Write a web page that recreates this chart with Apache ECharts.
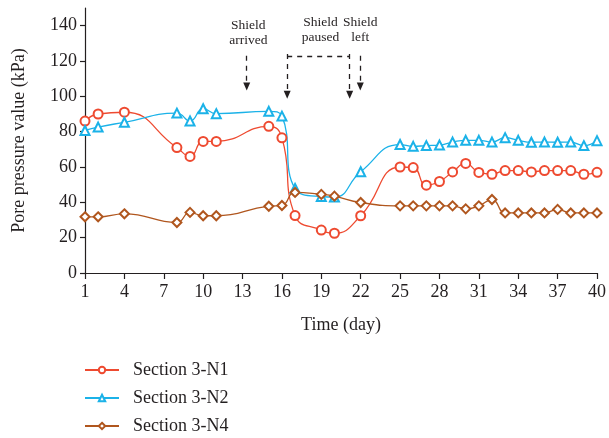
<!DOCTYPE html>
<html>
<head>
<meta charset="utf-8">
<script src="https://cdn.jsdelivr.net/npm/echarts@6/dist/echarts.min.js"></script>
<style>
  html, body { margin: 0; padding: 0; background: #fff; }
  #chart { width: 609px; height: 438px; }
</style>
</head>
<body>
<div id="chart"></div>
<script>
  // days on which the three sections were read
  let days = [1, 2, 4, 8, 9, 10, 11, 15, 16, 17, 19, 20, 22, 25, 26, 27, 28, 29, 30, 31, 32, 33, 34, 35, 36, 37, 38, 39, 40]
  let n1Data = [86, 90, 91, 71, 66, 74.5, 74.5, 83, 76.5, 32.5, 24.3, 22.5, 32.4, 60, 59.7, 49.7, 51.8, 57.2, 62, 56.9, 55.9, 58, 58, 57.2, 58, 58, 58, 55.9, 57]
  let n2Data = [80.7, 82.6, 85.3, 90.5, 86, 93, 90.2, 91.5, 88.8, 47.8, 43.3, 43, 57.3, 72.7, 71.7, 72.1, 72.4, 74.1, 75.1, 75.1, 74.1, 76.6, 75.1, 74, 74.1, 74, 74.1, 72.1, 74.9]
  let n4Data = [31.8, 31.8, 33.5, 28.6, 34.3, 32.4, 32.4, 37.8, 38.2, 45.6, 44.5, 43.5, 39.9, 38, 38, 38, 38, 38, 36.3, 38, 41.6, 34, 34, 34, 34, 36, 34, 34, 34]
  let xTicks = [1, 4, 7, 10, 13, 16, 19, 22, 25, 28, 31, 34, 37, 40]
  let yTicks = [0, 20, 40, 60, 80, 100, 120, 140]
  let seriesNames = ['Section 3-N1', 'Section 3-N2', 'Section 3-N4']

  // shield events (day, in kPa units of the plot)
  let arrivedDay = 13.32
  let pausedFrom = 16.4
  let pausedTo = 21.16
  let leftDay = 21.97
  let notes = [
    { text: 'Shield\narrived', x: 13.44, y: 136.1 },
    { text: 'Shield\npaused', x: 18.93, y: 137.5 },
    { text: 'Shield\nleft', x: 21.97, y: 137.5 }
  ]

  const FONT = '"Liberation Serif", "DejaVu Serif", serif'
  const INK = '#231f20'

  function pairs(ys) {
    return days.map((d, i) => [d, ys[i]])
  }

  function lineSeries(name, ys, color, symbol) {
    return {
      name: name,
      type: 'line',
      smooth: 0.5,
      symbol: symbol,
      symbolSize: 9,
      lineStyle: { width: 1.3, color: color },
      itemStyle: { color: color, borderColor: color, borderWidth: 1.3 },
      data: pairs(ys)
    }
  }

  let chart = echarts.init(document.getElementById('chart'), null, { renderer: 'canvas' })

  let arrowStyle = { color: INK, width: 1.3, type: [5, 5] }
  chart.setOption({
    animation: false,
    textStyle: { fontFamily: FONT, color: INK },
    grid: { left: 85, right: 10, top: 8, bottom: 165 },
    legend: {
      data: seriesNames,
      orient: 'vertical',
      left: 84,
      top: 361,
      padding: 0,
      itemWidth: 34,
      itemHeight: 8,
      itemGap: 10,
      textStyle: { fontFamily: FONT, fontSize: 18, color: INK, lineHeight: 18, padding: [0, 0, 0, 9] }
    },
    xAxis: {
      type: 'value',
      min: 1,
      max: 40,
      name: 'Time (day)',
      nameLocation: 'middle',
      nameGap: 43,
      nameTextStyle: { fontFamily: FONT, fontSize: 18, color: INK },
      axisLine: { lineStyle: { color: INK, width: 1.2 } },
      axisTick: { show: true, length: 6, lineStyle: { color: INK, width: 1.2 }, customValues: xTicks },
      axisLabel: { fontFamily: FONT, fontSize: 18, color: INK, margin: 10, customValues: xTicks },
      splitLine: { show: false }
    },
    yAxis: {
      type: 'value',
      min: 0,
      max: 150,
      name: 'Pore pressure value (kPa)',
      nameLocation: 'middle',
      nameGap: 57,
      nameTextStyle: { fontFamily: FONT, fontSize: 18, color: INK },
      axisLine: { show: true, lineStyle: { color: INK, width: 1.2 } },
      axisTick: { show: true, length: 5, lineStyle: { color: INK, width: 1.2 }, customValues: yTicks },
      axisLabel: { fontFamily: FONT, fontSize: 18, color: INK, margin: 8, customValues: yTicks },
      splitLine: { show: false }
    },
    series: [
      lineSeries(seriesNames[0], n1Data, '#ee4a30', 'emptyCircle'),
      lineSeries(seriesNames[1], n2Data, '#1bb2e8', 'emptyTriangle'),
      lineSeries(seriesNames[2], n4Data, '#b0561e', 'emptyDiamond'),
      {
        name: 'events',
        type: 'line',
        data: [],
        silent: true,
        markLine: {
          silent: true,
          animation: false,
          symbol: ['none', 'triangle'],
          symbolSize: [7, 8],
          label: { show: false },
          lineStyle: arrowStyle,
          data: [
            [{ coord: [arrivedDay, 123] }, { coord: [arrivedDay, 105.6] }],
            [{ coord: [pausedFrom, 124] }, { coord: [pausedFrom, 100.9] }],
            [{ coord: [pausedTo, 124] }, { coord: [pausedTo, 100.9] }],
            [{ coord: [pausedFrom, 122.7], symbol: 'none' }, { coord: [pausedTo, 122.7], symbol: 'none' }],
            [{ coord: [leftDay, 123] }, { coord: [leftDay, 105.6] }]
          ]
        }
      }
    ]
  })

  // event captions placed from data coordinates
  chart.setOption({
    graphic: notes.map(n => {
      let p = chart.convertToPixel({ gridIndex: 0 }, [n.x, n.y])
      return {
        type: 'text',
        x: p[0],
        y: p[1],
        silent: true,
        style: {
          text: n.text,
          fontFamily: FONT,
          fontSize: 13.5,
          lineHeight: 15,
          fill: INK,
          align: 'center',
          verticalAlign: 'middle'
        }
      }
    })
  })
</script>
</body>
</html>
